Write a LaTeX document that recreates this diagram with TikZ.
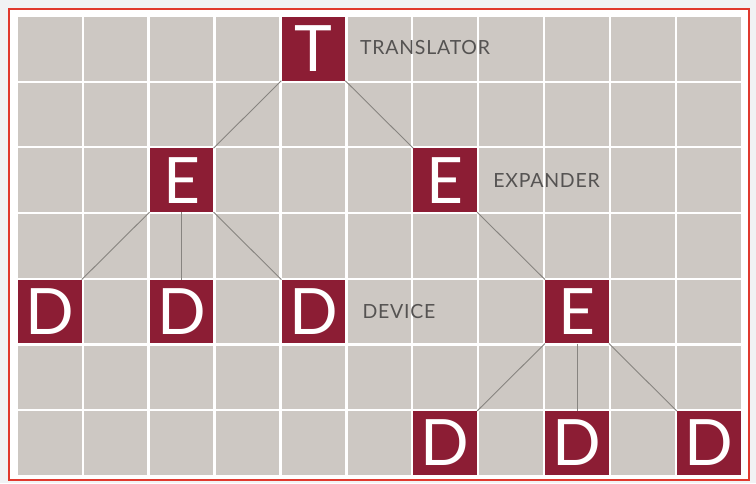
\documentclass[tikz,border=0pt]{standalone}
\usepackage{fontspec}
\setmainfont{Lato}
\definecolor{maroon}{HTML}{8C1D34}
\definecolor{cellgray}{HTML}{CDC8C3}
\definecolor{linegray}{HTML}{878480}
\definecolor{labelgray}{HTML}{555352}
\definecolor{frame}{HTML}{E0392E}
\definecolor{outside}{HTML}{F1F2F4}
\begin{document}
\begin{tikzpicture}[x=1pt,y=-1pt,
  box/.style={fill=maroon,text=white,minimum size=63.5pt,inner sep=0pt,
    font=\fontsize{64}{64}\selectfont},
  lbl/.style={anchor=west,inner sep=0pt,text=labelgray,
    font=\fontsize{19.5}{19.5}\selectfont\addfontfeature{LetterSpace=4}},
  conn/.style={draw=linegray,line width=0.9pt}]
\useasboundingbox (0,0) rectangle (756,483);
\fill[outside] (0,0) rectangle (756,483);
\filldraw[fill=white,draw=frame,line width=2pt] (9,9) rectangle (749,480);
\foreach \c in {0,...,10}
  \foreach \r in {0,...,6}
    \fill[cellgray] ({18+65.9*\c},{17+65.7*\r}) rectangle ++(63.5,63.5);
\node[box] (T)  at ({49.75+65.9*4},{48.75+65.7*0}) {T};
\node[box] (E1) at ({49.75+65.9*2},{48.75+65.7*2}) {E};
\node[box] (E2) at ({49.75+65.9*6},{48.75+65.7*2}) {E};
\node[box] (D1) at ({49.75+65.9*0},{48.75+65.7*4}) {D};
\node[box] (D2) at ({49.75+65.9*2},{48.75+65.7*4}) {D};
\node[box] (D3) at ({49.75+65.9*4},{48.75+65.7*4}) {D};
\node[box] (E3) at ({49.75+65.9*8},{48.75+65.7*4}) {E};
\node[box] (D4) at ({49.75+65.9*6},{48.75+65.7*6}) {D};
\node[box] (D5) at ({49.75+65.9*8},{48.75+65.7*6}) {D};
\node[box] (D6) at ({49.75+65.9*10},{48.75+65.7*6}) {D};
\draw[conn] (T.south west) -- (E1.north east);
\draw[conn] (T.south east) -- (E2.north west);
\draw[conn] (E1.south west) -- (D1.north east);
\draw[conn] (E1.south) -- (D2.north);
\draw[conn] (E1.south east) -- (D3.north west);
\draw[conn] (E2.south east) -- (E3.north west);
\draw[conn] (E3.south west) -- (D4.north east);
\draw[conn] (E3.south) -- (D5.north);
\draw[conn] (E3.south east) -- (D6.north west);
\node[lbl] (tl) at ([xshift=14.5pt,yshift=1.5pt]T.east) {TRANSLATOR};
\node[lbl] (el) at ([xshift=16pt]E2.east) {EXPANDER};
\node[lbl] (dl) at ([xshift=17pt]D3.east) {DEVICE};
\end{tikzpicture}
\end{document}
